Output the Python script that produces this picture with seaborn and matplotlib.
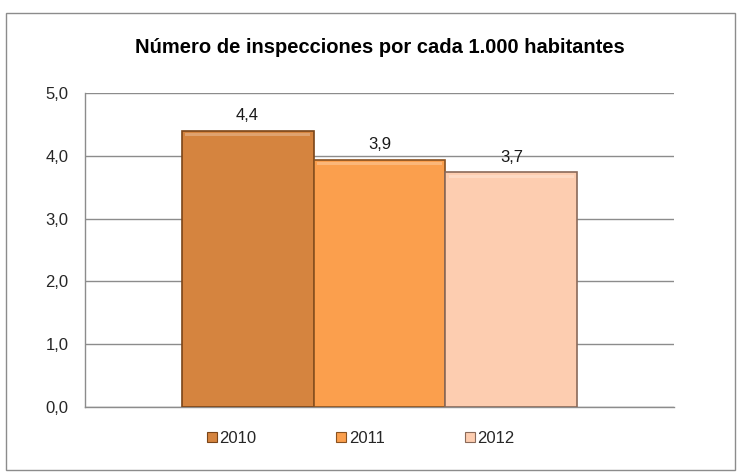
import matplotlib
matplotlib.use("Agg")
import matplotlib.pyplot as plt
import seaborn as sns
import pandas as pd
from matplotlib.patches import Rectangle, Patch

# Data
years = ["2010", "2011", "2012"]
values = [4.40, 3.94, 3.74]
colors = ["#D5843F", "#FB9F4D", "#FDCDB0"]
edge_colors = ["#7A4519", "#8A5220", "#8A6A5A"]
y_ticks = [0.0, 1.0, 2.0, 3.0, 4.0, 5.0]
title = "Número de inspecciones por cada 1.000 habitantes"

sns.set_theme(style="white")
plt.rcParams["font.family"] = ["Liberation Sans", "DejaVu Sans"]

df = pd.DataFrame({"cat": [""] * len(years), "year": years, "value": values})

fig = plt.figure(figsize=(7.37, 4.73), dpi=100)
ax = fig.add_axes([0.1153, 0.1395, 0.7992, 0.6639])

sns.barplot(data=df, x="cat", y="value", hue="year", palette=colors,
            width=0.672, dodge=True, ax=ax, legend=False, saturation=1)

for bar, ec, v in zip(ax.patches, edge_colors, values):
    bar.set_edgecolor(ec)
    bar.set_linewidth(1.2)
    bar.set_zorder(3)
    # light bevel highlight along the top edge
    ax.add_patch(Rectangle((bar.get_x() + 0.006, bar.get_height() - 0.09),
                           bar.get_width() - 0.012, 0.05, facecolor="white",
                           alpha=0.25, edgecolor="none", zorder=4))
    ax.text(bar.get_x() + bar.get_width() / 2, bar.get_height() + 0.12,
            f"{v:.1f}".replace(".", ","), ha="center", va="bottom",
            fontsize=12, color="#1a1a1a")

ax.set_xlim(-0.5, 0.5)
ax.set_ylim(0, 5)
ax.set_yticks(y_ticks)
ax.set_yticklabels([f"{t:.1f}".replace(".", ",") for t in y_ticks], fontsize=12)
ax.set_xticks([])
ax.set_xlabel("")
ax.set_ylabel("")
ax.tick_params(axis="y", length=0, pad=12)
ax.yaxis.grid(True, color="#8C8C8C", linewidth=1)
ax.set_axisbelow(True)
for side in ["top", "right"]:
    ax.spines[side].set_visible(False)
ax.spines["left"].set_color("#8C8C8C")
ax.spines["bottom"].set_color("#8C8C8C")
ax.spines["left"].set_linewidth(1)
ax.spines["bottom"].set_linewidth(1)

fig.text(0.515, 0.900, title, ha="center", va="center",
         fontsize=14.5, fontweight="bold", color="#000000")

handles = [Patch(facecolor=c, edgecolor=e, linewidth=0.8) for c, e in zip(colors, edge_colors)]
fig.legend(handles, years, loc="center", bbox_to_anchor=(0.489, 0.073), ncol=3,
           frameon=False, fontsize=12, handlelength=0.6, handleheight=0.6,
           handletextpad=0.15, columnspacing=4.8)

# outer chart border
fig.add_artist(Rectangle((6 / 737, 1 - 470 / 473), 729 / 737, 457 / 473,
                         transform=fig.transFigure, fill=False,
                         edgecolor="#8C8C8C", linewidth=1))

fig.savefig("out.png", dpi=100)
